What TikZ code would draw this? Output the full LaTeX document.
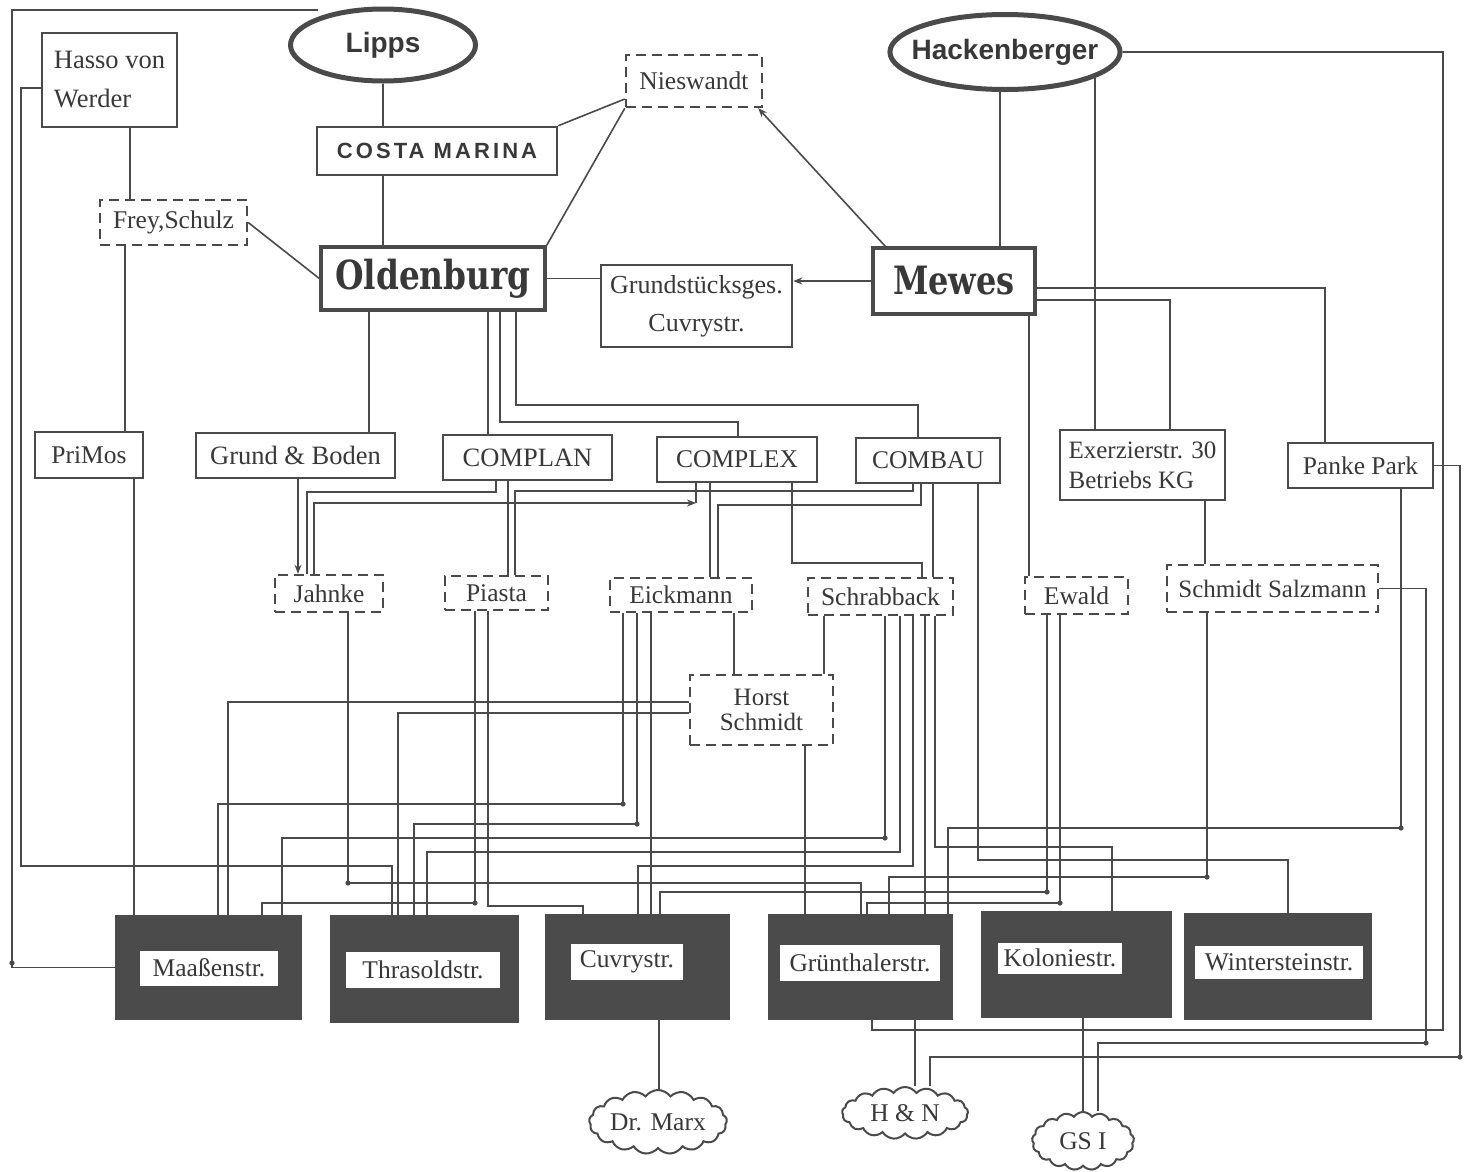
\documentclass[tikz,border=0pt]{standalone}
\usepackage{fontspec}
\setmainfont{Liberation Serif}
\newfontfamily\hfont{Liberation Sans}
\newfontfamily\costafont{Liberation Sans}[LetterSpace=14]
\newfontfamily\slabfont{DejaVu Serif}[FakeStretch=0.82]
\usetikzlibrary{shapes.geometric,shapes.symbols,arrows.meta,calc}
\definecolor{ink}{HTML}{4A4A4A}
\definecolor{txt}{HTML}{383838}
\definecolor{fillbox}{HTML}{4B4B4B}
\begin{document}
\begin{tikzpicture}[x=1pt,y=-1pt,
  conn/.style={draw=ink, line width=1.6pt},
  arrowed/.style={-{Stealth[length=9pt,width=7pt]}},
  sbox/.style={draw=ink, line width=2.6pt, inner sep=0pt, text=txt, font=\fontsize{25.5}{30}\selectfont},
  dbox/.style={draw=ink, line width=2.4pt, dash pattern=on 10pt off 6pt, inner sep=0pt, text=txt, font=\fontsize{25.5}{30}\selectfont},
  oval/.style={ellipse, draw=ink, line width=5pt, inner sep=0pt, text=txt, font=\hfont\bfseries\fontsize{28}{30}\selectfont},
  house/.style={fill=fillbox, inner sep=0pt},
  tag/.style={fill=white, text=txt, inner sep=0pt, font=\fontsize{25.5}{30}\selectfont},
  puff/.style={cloud, cloud puffs=17, cloud puff arc=110, aspect=2.6, draw=ink, line width=2pt, inner sep=0pt, text=txt, font=\fontsize{25.5}{30}\selectfont},
]
\useasboundingbox (0,0) rectangle (1464,1171);
\fill[white] (0,0) rectangle (1464,1171);

% ---------- top level ----------
\node[sbox, minimum width=135pt, minimum height=94pt, align=left, font=\fontsize{26.5}{39}\selectfont] (hasso) at (109.5,80) {Hasso von\\Werder};
\node[oval, minimum width=185pt, minimum height=72pt] (lipps) at (383,45) {Lipps};
\node[sbox, minimum width=240pt, minimum height=48pt, font=\costafont\bfseries\fontsize{22}{24}\selectfont] (costa) at (437,151) {COSTA MARINA};
\node[dbox, minimum width=136pt, minimum height=52pt] (nies) at (694,81) {Nieswandt};
\node[oval, inner xsep=-12pt, minimum width=230pt, minimum height=75pt, font=\hfont\bfseries\fontsize{28}{30}\selectfont] (hack) at (1005,52) {Hackenberger};
\node[dbox, minimum width=147pt, minimum height=45pt] (frey) at (173.5,222.5) {Frey,Schulz};
\node[sbox, line width=3.4pt, minimum width=224pt, minimum height=63pt, font=\slabfont\bfseries\fontsize{40}{40}\selectfont] (old) at (433,278.5) {Oldenburg};
\node[sbox, minimum width=191pt, minimum height=82pt, align=center, font=\fontsize{26}{38}\selectfont] (grund) at (696.5,306) {Grundstücksges.\\Cuvrystr.};
\node[sbox, line width=3.4pt, minimum width=162pt, minimum height=66pt, font=\slabfont\bfseries\fontsize{39}{40}\selectfont] (mewes) at (954,281) {Mewes};

% ---------- second row ----------
\node[sbox, minimum width=108pt, minimum height=46pt] (primos) at (89,455) {PriMos};
\node[sbox, minimum width=199pt, minimum height=45pt, font=\fontsize{26.5}{30}\selectfont] (gub) at (295.5,455.5) {Grund \& Boden};
\node[sbox, minimum width=169pt, minimum height=45pt, font=\fontsize{26.5}{30}\selectfont] (complan) at (527.5,457.5) {COMPLAN};
\node[sbox, minimum width=160pt, minimum height=45pt] (complex) at (737,459.5) {COMPLEX};
\node[sbox, minimum width=144pt, minimum height=45pt] (combau) at (928,460.5) {COMBAU};
\node[sbox, minimum width=165pt, minimum height=70pt, align=left, font=\fontsize{25}{30}\selectfont] (exer) at (1142.5,465) {Exerzierstr. 30\\Betriebs KG};
\node[sbox, minimum width=145pt, minimum height=45pt] (panke) at (1360.5,465.5) {Panke Park};

% ---------- third row (dashed) ----------
\node[dbox, minimum width=108pt, minimum height=37pt] (jahnke) at (329,593.5) {Jahnke};
\node[dbox, minimum width=103pt, minimum height=34pt] (piasta) at (496.5,593) {Piasta};
\node[dbox, minimum width=142pt, minimum height=34pt] (eick) at (681,595) {Eickmann};
\node[dbox, minimum width=145pt, minimum height=37pt] (schr) at (880.5,596.5) {Schrabback};
\node[dbox, minimum width=103pt, minimum height=37pt] (ewald) at (1076.5,595.5) {Ewald};
\node[dbox, minimum width=211pt, minimum height=47pt, font=\fontsize{25}{30}\selectfont] (salz) at (1272.5,588.5) {Schmidt Salzmann};
\node[dbox, minimum width=143pt, minimum height=70pt, align=center, font=\fontsize{25}{25}\selectfont] (horst) at (761.5,710) {Horst\\Schmidt};

% ---------- houses ----------
\node[house, minimum width=187pt, minimum height=105pt] (maass) at (208.5,967.5) {};
\node[house, minimum width=189pt, minimum height=108pt] (thras) at (424.5,969) {};
\node[house, minimum width=185pt, minimum height=106pt] (cuvry) at (637.5,967) {};
\node[house, minimum width=185pt, minimum height=106pt] (gruen) at (860.5,967) {};
\node[house, minimum width=191pt, minimum height=107pt] (kolon) at (1076.5,964.5) {};
\node[house, minimum width=188pt, minimum height=107pt] (winter) at (1278,966.5) {};
\node[tag, minimum width=138pt, minimum height=35pt] (maassL) at (209,968) {Maaßenstr.};
\node[tag, minimum width=154pt, minimum height=36pt] (thrasL) at (423,970) {Thrasoldstr.};
\node[tag, minimum width=112pt, minimum height=36pt] (cuvryL) at (627,962) {Cuvrystr.};
\node[tag, minimum width=160pt, minimum height=36pt] (gruenL) at (860,963) {Grünthalerstr.};
\node[tag, minimum width=124pt, minimum height=31pt] (kolonL) at (1060,958) {Koloniestr.};
\node[tag, minimum width=168pt, minimum height=33pt] (winterL) at (1279,962) {Wintersteinstr.};

% ---------- clouds ----------
\node[puff, minimum width=122pt, minimum height=48pt] (marx) at (658,1122) {Dr. Marx};
\node[puff, minimum width=126pt, minimum height=52pt] (hn) at (905,1113) {H \& N};
\node[puff, minimum width=102pt, minimum height=58pt, aspect=1.8] (gs) at (1083,1141) {GS I};

% ---------- connectors: top ----------
\coordinate (frameend) at (318,10);
\draw[conn] (frameend) -- (12,10) |- (maass.west);
\draw[conn] ([yshift=-8pt]hasso.west) -| (21,866) -| (392,0 |- thras.north);
\draw[conn] (130,0 |- hasso.south) -- (130,0 |- frey.north);
\draw[conn] (125,0 |- frey.south) -- (125,0 |- primos.north);
\draw[conn] (frey.east) -- (old.west);
\draw[conn] (lipps.south) -- (lipps.south |- costa.north);
\draw[conn] (383,0 |- costa.south) -- (383,0 |- old.north);
\draw[conn] (costa.north east) -- ([yshift=-18pt]nies.west);
\draw[conn] (old.north east) -- (nies.south west);
\draw[conn, arrowed] ([xshift=14pt]mewes.north west) -- ([xshift=-5pt]nies.south east);
\draw[conn] (1000,0 |- hack.south) -- (1000,0 |- mewes.north);
\draw[conn] (hack.east) -| (1443,1030) -| (872,0 |- gruen.south);
\draw[conn] (old.east) -- (old.east -| grund.west);
\draw[conn, arrowed] (mewes.west) -- (mewes.west -| grund.east);
\draw[conn] (hack.-16) -- (hack.-16 |- exer.north);
\draw[conn] ([yshift=-19pt]mewes.east) -| (1170,0 |- exer.north);
\draw[conn] ([yshift=-7pt]mewes.east) -| (1325,0 |- panke.north);
\draw[conn] (1029,0 |- mewes.south) -- (1029,0 |- ewald.north);
\draw[conn] (369,0 |- old.south) -- (369,0 |- gub.north);
\draw[conn] (488,0 |- old.south) -- (488,0 |- complan.north);
\draw[conn] (500,0 |- old.south) -- (500,422) -| (738,0 |- complex.north);
\draw[conn] (516,0 |- old.south) -- (516,405) -| (918,0 |- combau.north);
\draw[conn] (1205,0 |- exer.south) -- (1205,0 |- salz.north);
\draw[conn] (panke.east) -| (1460,1057) -| (930,0 |- hn.north);
\draw[conn] (salz.east) -| (1426,1043) -| (1098,0 |- gs.north);

% ---------- connectors: second to third row ----------
\draw[conn] (134,0 |- primos.south) -- (134,0 |- maass.north);
\draw[conn, arrowed] (298,0 |- gub.south) -- (298,0 |- jahnke.north);
\draw[conn] (496,0 |- complan.south) -- (496,492) -| (307,0 |- jahnke.north);
\draw[conn] (696,0 |- complex.south) -- (696,503);
\draw[conn, arrowed] (314,0 |- jahnke.north) |- (696,503);
\draw[conn] (508,0 |- complan.south) -- (508,0 |- piasta.north);
\draw[conn] (913,0 |- combau.south) -- (913,491) -| (515,0 |- piasta.north);
\draw[conn] (710,0 |- complex.south) -- (710,0 |- eick.north);
\draw[conn] (921,0 |- combau.south) -- (921,505) -| (718,0 |- eick.north);
\draw[conn] (792,0 |- complex.south) -- (792,563) -| (922,0 |- schr.north);
\draw[conn] (933,0 |- combau.south) -- (933,0 |- schr.north);
\draw[conn] (978,0 |- combau.south) -- (978,860) -| (1288,0 |- winter.north);

% ---------- connectors: to the houses ----------
\draw[conn] (734,0 |- eick.south) -- (734,0 |- horst.north);
\draw[conn] (824,0 |- schr.south) -- (824,0 |- horst.north);
\draw[conn] ([yshift=8pt]horst.west) -| (228,0 |- maass.north);
\draw[conn] ([yshift=-3pt]horst.west) -| (398,0 |- thras.north);
\draw[conn] (805,0 |- horst.south) -- (805,0 |- gruen.north);
\draw[conn] (348,0 |- jahnke.south) -- (348,883) -| (861,0 |- gruen.north);
\draw[conn] (475,0 |- piasta.south) -- (475,903) -| (262,0 |- maass.north);
\draw[conn] (488,0 |- piasta.south) -- (488,906) -| (583,0 |- cuvry.north);
\draw[conn] (623,0 |- eick.south) -- (623,804) -| (218,0 |- maass.north);
\draw[conn] (637,0 |- eick.south) -- (637,824) -| (414,0 |- thras.north);
\draw[conn] (651,0 |- eick.south) -- (651,0 |- cuvry.north);
\draw[conn] (885,0 |- schr.south) -- (885,838) -| (282,0 |- maass.north);
\draw[conn] (900,0 |- schr.south) -- (900,852) -| (427,0 |- thras.north);
\draw[conn] (913,0 |- schr.south) -- (913,866) -| (638,0 |- cuvry.north);
\draw[conn] (925,0 |- schr.south) -- (925,0 |- gruen.north);
\draw[conn] (935,0 |- schr.south) -- (935,847) -| (1112,0 |- kolon.north);
\draw[conn] (1047,0 |- ewald.south) -- (1047,892) -| (660,0 |- cuvry.north);
\draw[conn] (1060,0 |- ewald.south) -- (1060,903) -| (867,0 |- gruen.north);
\draw[conn] (1207,0 |- salz.south) -- (1207,877) -| (889,0 |- gruen.north);
\draw[conn] (1401,0 |- panke.south) -- (1401,828) -| (948,0 |- gruen.north);
\draw[conn] (659,0 |- cuvry.south) -- (659,0 |- marx.north);
\draw[conn] (915,0 |- gruen.south) -- (915,0 |- hn.north);
\draw[conn] (1083,0 |- kolon.south) -- (1083,0 |- gs.north);

% junction dots
\foreach \p in {(475,903),(348,883),(1047,892),(1426,1043),(1460,1057),(1401,828),(12,963),(623,804),(637,824),(885,838),(1207,877),(1060,903)}
  \fill[ink] \p circle (2.6pt);
\end{tikzpicture}
\end{document}
